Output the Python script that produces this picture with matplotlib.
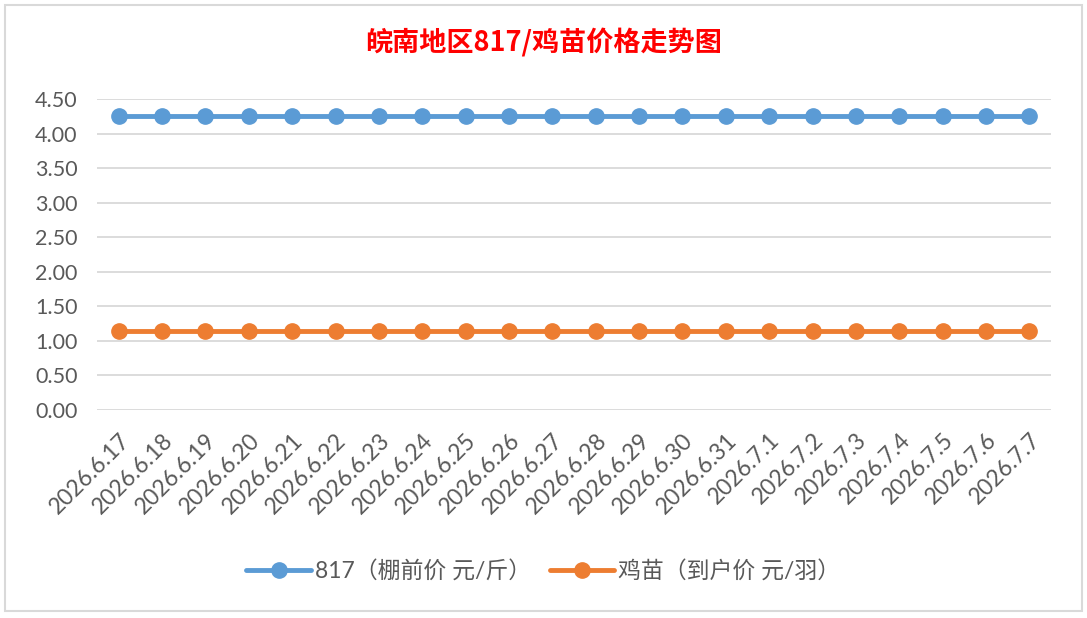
import matplotlib.pyplot as plt
from matplotlib.patches import Rectangle

plt.rcParams['font.family'] = ['Lato', 'Noto Sans CJK SC', 'DejaVu Sans']

# data
dates = ['2026.6.17', '2026.6.18', '2026.6.19', '2026.6.20', '2026.6.21',
         '2026.6.22', '2026.6.23', '2026.6.24', '2026.6.25', '2026.6.26',
         '2026.6.27', '2026.6.28', '2026.6.29', '2026.6.30', '2026.6.31',
         '2026.7.1', '2026.7.2', '2026.7.3', '2026.7.4', '2026.7.5',
         '2026.7.6', '2026.7.7']
price_817 = [4.25] * 22
price_chick = [1.15] * 22
yticks = [0, 0.5, 1, 1.5, 2, 2.5, 3, 3.5, 4, 4.5]

fig = plt.figure(figsize=(10.87, 6.18), dpi=100)
ax = fig.add_axes([97 / 1087, 1 - 410 / 618, (1051 - 97) / 1087, (410 - 99) / 618])

x = list(range(len(dates)))
ax.plot(x, price_817, color='#5B9BD5', lw=3.5, marker='o', ms=11,
        label='817（棚前价 元/斤）', solid_capstyle='round')
ax.plot(x, price_chick, color='#ED7D31', lw=3.5, marker='o', ms=11,
        label='鸡苗（到户价 元/羽）', solid_capstyle='round')

ax.set_xlim(-0.5, len(dates) - 0.5)
ax.set_ylim(0, 4.5)
ax.set_yticks(yticks)
ax.set_yticklabels(['%.2f' % v for v in yticks], fontsize=15.5, color='#595959')
ax.set_xticks(x)
ax.set_xticklabels(dates, rotation=45, ha='right', rotation_mode='anchor',
                   fontsize=16.5, color='#595959')
ax.tick_params(length=0, pad=14)
ax.tick_params(axis='x', pad=14)
ax.grid(axis='y', color='#D9D9D9', lw=1.3)
ax.set_axisbelow(True)
for s in ax.spines.values():
    s.set_visible(False)

fig.text(0.5, 1 - 42 / 618, '皖南地区817/鸡苗价格走势图', ha='center', va='center',
         fontsize=19.5, color='#FF0000', fontweight='bold',
         family=['Noto Sans CJK SC', 'DejaVu Sans'])

fig.legend(loc='center', bbox_to_anchor=(0.5, 1 - 571 / 618), ncol=2, frameon=False,
           fontsize=16.5, labelcolor='#595959', handlelength=2.8, columnspacing=0.8,
           handletextpad=0.2, markerscale=1.0)

# chart border
fig.patches.append(Rectangle((5 / 1087, 1 - 611 / 618), 1077 / 1087, 606 / 618,
                             transform=fig.transFigure, fill=False,
                             edgecolor='#D9D9D9', lw=1.5))

fig.savefig('out.png', dpi=100)
